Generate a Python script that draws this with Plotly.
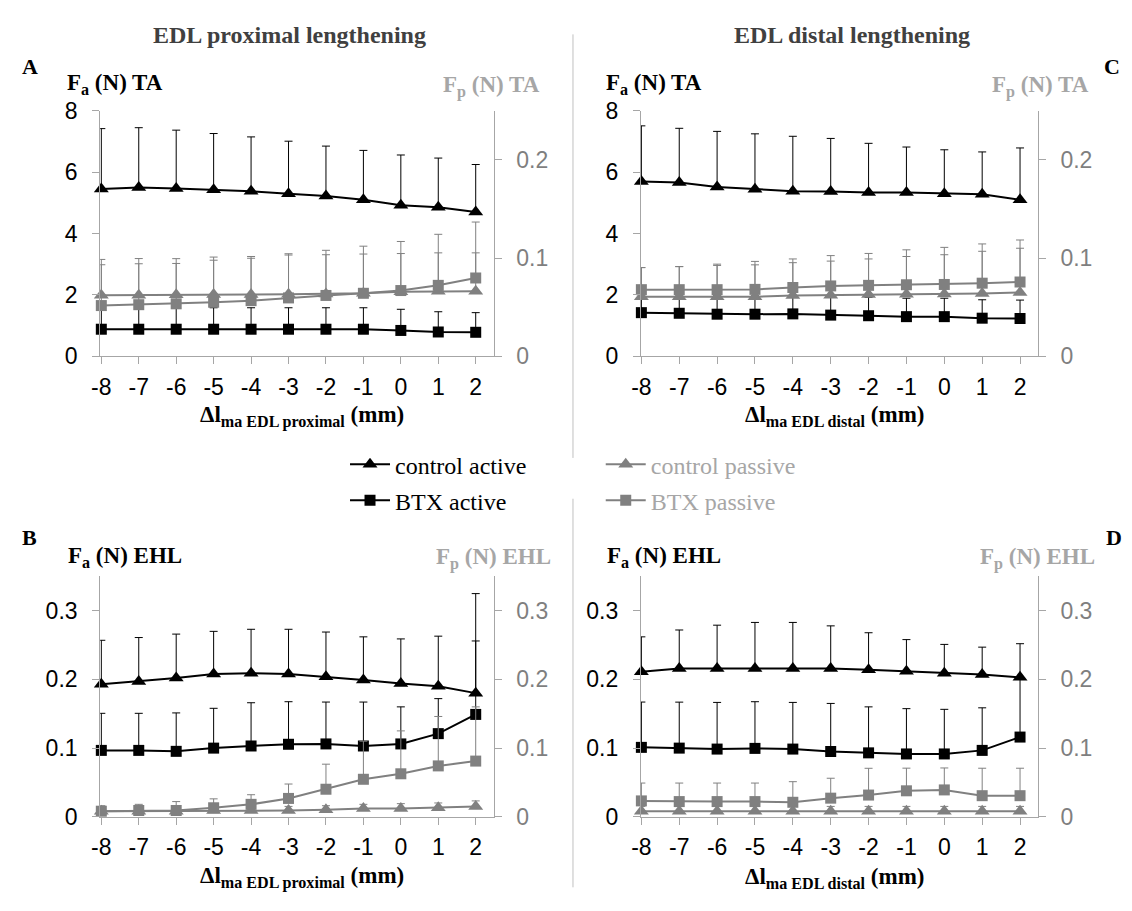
import plotly.graph_objects as go

W, H = 1132, 911

# ---------------- data ----------------
x_mm = [-8, -7, -6, -5, -4, -3, -2, -1, 0, 1, 2]
x_tick_labels = ["-8", "-7", "-6", "-5", "-4", "-3", "-2", "-1", "0", "1", "2"]

# Panel A: EDL proximal lengthening, TA
A_ctrl_act = [5.45, 5.50, 5.47, 5.43, 5.38, 5.30, 5.22, 5.10, 4.92, 4.86, 4.70]
A_ctrl_act_sd = [1.97, 1.95, 1.90, 1.83, 1.77, 1.71, 1.63, 1.61, 1.64, 1.60, 1.55]
A_btx_act = [0.88, 0.88, 0.88, 0.88, 0.88, 0.88, 0.88, 0.88, 0.84, 0.79, 0.78]
A_btx_act_sd = [0.70, 0.70, 0.70, 0.70, 0.70, 0.70, 0.70, 0.70, 0.69, 0.66, 0.64]
A_ctrl_pas = [0.0622, 0.0622, 0.0625, 0.0628, 0.0628, 0.0631, 0.0634, 0.0641, 0.0656, 0.0663, 0.0663]
A_ctrl_pas_sd = [0.031, 0.032, 0.032, 0.035, 0.037, 0.040, 0.040, 0.040, 0.039, 0.039, 0.039]
A_btx_pas = [0.0516, 0.0525, 0.0534, 0.0550, 0.0566, 0.0594, 0.0619, 0.0641, 0.0669, 0.0722, 0.0797]
A_btx_pas_sd = [0.047, 0.047, 0.046, 0.046, 0.045, 0.045, 0.046, 0.048, 0.050, 0.052, 0.057]

# Panel C: EDL distal lengthening, TA
C_ctrl_act = [5.70, 5.66, 5.52, 5.44, 5.38, 5.37, 5.34, 5.34, 5.30, 5.28, 5.10]
C_ctrl_act_sd = [1.81, 1.77, 1.81, 1.81, 1.79, 1.73, 1.60, 1.48, 1.43, 1.38, 1.69]
C_btx_act = [1.42, 1.40, 1.37, 1.37, 1.38, 1.34, 1.32, 1.29, 1.29, 1.24, 1.23]
C_btx_act_sd = [0.60, 0.60, 0.60, 0.60, 0.60, 0.60, 0.60, 0.60, 0.60, 0.60, 0.60]
C_ctrl_pas = [0.0606, 0.0606, 0.0606, 0.0606, 0.0619, 0.0622, 0.0628, 0.0631, 0.0634, 0.0638, 0.0650]
C_ctrl_pas_sd = [0.0297, 0.0307, 0.0319, 0.0325, 0.0334, 0.0347, 0.0363, 0.0385, 0.0400, 0.0431, 0.0450]
C_btx_pas = [0.0678, 0.0678, 0.0678, 0.0681, 0.0700, 0.0716, 0.0722, 0.0728, 0.0731, 0.0744, 0.0756]
C_btx_pas_sd = [0.0225, 0.0235, 0.0260, 0.0285, 0.0291, 0.0309, 0.0325, 0.0356, 0.0378, 0.0400, 0.0428]

# Panel B: EDL proximal lengthening, EHL
B_ctrl_act = [0.193, 0.197, 0.202, 0.208, 0.209, 0.208, 0.204, 0.199, 0.194, 0.190, 0.180]
B_ctrl_act_sd = [0.064, 0.064, 0.064, 0.062, 0.064, 0.065, 0.065, 0.063, 0.065, 0.073, 0.145]
B_btx_act = [0.0966, 0.0966, 0.0952, 0.0999, 0.103, 0.1055, 0.106, 0.103, 0.106, 0.121, 0.149]
B_btx_act_sd = [0.054, 0.054, 0.056, 0.058, 0.063, 0.062, 0.061, 0.064, 0.054, 0.051, 0.107]
B_ctrl_pas = [0.008, 0.008, 0.008, 0.009, 0.009, 0.009, 0.010, 0.012, 0.012, 0.013, 0.015]
B_ctrl_pas_sd = [0.005, 0.005, 0.006, 0.006, 0.006, 0.006, 0.006, 0.006, 0.007, 0.007, 0.008]
B_btx_pas = [0.008, 0.009, 0.009, 0.013, 0.018, 0.0266, 0.040, 0.0545, 0.0625, 0.074, 0.081]
B_btx_pas_sd = [0.008, 0.009, 0.013, 0.013, 0.014, 0.021, 0.0365, 0.0555, 0.0625, 0.072, 0.079]

# Panel D: EDL distal lengthening, EHL
D_ctrl_act = [0.211, 0.216, 0.216, 0.216, 0.216, 0.216, 0.214, 0.212, 0.209, 0.207, 0.203]
D_ctrl_act_sd = [0.051, 0.056, 0.063, 0.067, 0.067, 0.062, 0.054, 0.046, 0.042, 0.040, 0.049]
D_btx_act = [0.101, 0.0999, 0.0985, 0.0995, 0.0985, 0.095, 0.093, 0.0914, 0.0914, 0.0966, 0.116]
D_btx_act_sd = [0.066, 0.067, 0.068, 0.068, 0.068, 0.070, 0.067, 0.066, 0.065, 0.062, 0.084]
D_ctrl_pas = [0.008, 0.008, 0.008, 0.008, 0.008, 0.008, 0.008, 0.008, 0.008, 0.008, 0.008]
D_ctrl_pas_sd = [0.007, 0.007, 0.007, 0.007, 0.007, 0.007, 0.007, 0.007, 0.007, 0.007, 0.007]
D_btx_pas = [0.023, 0.022, 0.022, 0.022, 0.021, 0.027, 0.0315, 0.0377, 0.039, 0.0306, 0.0306]
D_btx_pas_sd = [0.026, 0.027, 0.027, 0.027, 0.030, 0.029, 0.039, 0.033, 0.032, 0.040, 0.040]

series_names = ["control active", "BTX active", "control passive", "BTX passive"]

# ---------------- styling ----------------
BLACK = "#000000"
GRAY = "#808080"
AXIS_GRAY = "#a6a6a6"
LIGHT_TXT = "#a6a6a6"
SERIF = "Liberation Serif"
SANS = "Liberation Sans"


def px(v):
    return v / W


def py(v):
    return 1 - v / H


fig = go.Figure()

panels = [
    ("A", "x", "y", "y2", (A_ctrl_act, A_ctrl_act_sd, A_btx_act, A_btx_act_sd,
                           A_ctrl_pas, A_ctrl_pas_sd, A_btx_pas, A_btx_pas_sd)),
    ("C", "x2", "y3", "y4", (C_ctrl_act, C_ctrl_act_sd, C_btx_act, C_btx_act_sd,
                             C_ctrl_pas, C_ctrl_pas_sd, C_btx_pas, C_btx_pas_sd)),
    ("B", "x3", "y5", "y6", (B_ctrl_act, B_ctrl_act_sd, B_btx_act, B_btx_act_sd,
                             B_ctrl_pas, B_ctrl_pas_sd, B_btx_pas, B_btx_pas_sd)),
    ("D", "x4", "y7", "y8", (D_ctrl_act, D_ctrl_act_sd, D_btx_act, D_btx_act_sd,
                             D_ctrl_pas, D_ctrl_pas_sd, D_btx_pas, D_btx_pas_sd)),
]

legend_ids = ["legend", "legend2", "legend3", "legend4"]

for key, xa, yl, yr, d in panels:
    ca, ca_sd, ba, ba_sd, cp, cp_sd, bp, bp_sd = d
    specs = [
        (ca, ca_sd, yl, BLACK, "triangle-up", 13, 0),
        (ba, ba_sd, yl, BLACK, "square", 11, 1),
        (cp, cp_sd, yr, GRAY, "triangle-up", 13, 2),
        (bp, bp_sd, yr, GRAY, "square", 11, 3),
    ]
    for vals, sd, ya, col, sym, size, idx in specs:
        fig.add_trace(go.Scatter(
            x=x_mm, y=vals, xaxis=xa, yaxis=ya,
            mode="lines+markers",
            name=series_names[idx],
            line=dict(color=col, width=2),
            marker=dict(symbol=sym, size=size, color=col),
            error_y=dict(type="data", symmetric=False, array=sd,
                         arrayminus=[0] * len(sd), color=col,
                         thickness=1, width=4),
            showlegend=(key == "A"),
            legend=legend_ids[idx],
            cliponaxis=False,
        ))

# ---------------- axes ----------------
top_dom = [py(353.3), py(100.7)]
bot_dom = [py(827.3), py(580)]
left_dom = [px(91), px(488)]
right_dom = [px(636.5), px(1037)]
left_range = [-8.03, 2.48]
right_range = [-8.013, 2.47]

common_x = dict(tickmode="array", tickvals=x_mm, ticktext=x_tick_labels,
                ticks="outside", ticklen=7, tickcolor=AXIS_GRAY,
                showline=True, linecolor=AXIS_GRAY, linewidth=1,
                showgrid=False, zeroline=False,
                tickfont=dict(family=SANS, size=23, color=BLACK),
                ticklabelstandoff=3)
common_yl = dict(ticks="outside", ticklen=7, tickcolor=AXIS_GRAY,
                 showline=True, linecolor=AXIS_GRAY, linewidth=1,
                 showgrid=False, zeroline=False,
                 tickfont=dict(family=SANS, size=23, color=BLACK),
                 ticklabelstandoff=10)
common_yr = dict(ticks="outside", ticklen=7, tickcolor=AXIS_GRAY,
                 showline=True, linecolor=AXIS_GRAY, linewidth=1,
                 showgrid=False, zeroline=False, side="right",
                 tickfont=dict(family=SANS, size=23, color="#7f7f7f"),
                 ticklabelstandoff=10)

fig.update_layout(
    xaxis=dict(domain=left_dom, range=left_range, anchor="y", **common_x),
    yaxis=dict(domain=top_dom, range=[0, 8], anchor="x", tickvals=[0, 2, 4, 6, 8], **common_yl),
    yaxis2=dict(range=[0, 0.25], anchor="x", overlaying="y", tickvals=[0, 0.1, 0.2], **common_yr),
    xaxis2=dict(domain=right_dom, range=right_range, anchor="y3", **common_x),
    yaxis3=dict(domain=top_dom, range=[0, 8], anchor="x2", tickvals=[0, 2, 4, 6, 8], **common_yl),
    yaxis4=dict(range=[0, 0.25], anchor="x2", overlaying="y3", tickvals=[0, 0.1, 0.2], **common_yr),
    xaxis3=dict(domain=left_dom, range=left_range, anchor="y5", **common_x),
    yaxis5=dict(domain=bot_dom, range=[0, 0.35], anchor="x3", tickvals=[0, 0.1, 0.2, 0.3], **common_yl),
    yaxis6=dict(range=[0, 0.35], anchor="x3", overlaying="y5", tickvals=[0, 0.1, 0.2, 0.3], **common_yr),
    xaxis4=dict(domain=right_dom, range=right_range, anchor="y7", **common_x),
    yaxis7=dict(domain=bot_dom, range=[0, 0.35], anchor="x4", tickvals=[0, 0.1, 0.2, 0.3], **common_yl),
    yaxis8=dict(range=[0, 0.35], anchor="x4", overlaying="y7", tickvals=[0, 0.1, 0.2, 0.3], **common_yr),
)

# ---------------- legends ----------------
leg_common = dict(xanchor="left", yanchor="middle", bgcolor="rgba(0,0,0,0)",
                  borderwidth=0, itemclick=False, itemdoubleclick=False,
                  itemwidth=40)
fig.update_layout(
    legend=dict(x=px(338), y=py(465), font=dict(family=SERIF, size=24, color=BLACK), **leg_common),
    legend2=dict(x=px(338), y=py(502), font=dict(family=SERIF, size=24, color=BLACK), **leg_common),
    legend3=dict(x=px(596), y=py(465), font=dict(family=SERIF, size=24, color=LIGHT_TXT), **leg_common),
    legend4=dict(x=px(596), y=py(502), font=dict(family=SERIF, size=24, color=LIGHT_TXT), **leg_common),
)

# ---------------- text ----------------
ann = []


def add_text(text, xp, yp, size, color, xanchor="center", family=SERIF):
    ann.append(dict(text=text, x=px(xp), y=py(yp), xref="paper", yref="paper",
                    xanchor=xanchor, yanchor="middle", showarrow=False,
                    font=dict(family=family, size=size, color=color)))


add_text("<b>EDL proximal lengthening</b>", 282, 23, 24, "#404040")
add_text("<b>EDL distal lengthening</b>", 850, 23, 24, "#404040")
add_text("<b>A</b>", 20, 55, 22, BLACK)
add_text("<b>C</b>", 1112, 55, 22, BLACK)
add_text("<b>B</b>", 20, 540, 22, BLACK)
add_text("<b>D</b>", 1114, 540, 22, BLACK)

add_text("<b>F<sub>a</sub> (N) TA</b>", 106, 73, 23, BLACK)
add_text("<b>F<sub>p</sub> (N) TA</b>", 486, 76, 23, LIGHT_TXT)
add_text("<b>F<sub>a</sub> (N) TA</b>", 650, 73, 23, BLACK)
add_text("<b>F<sub>p</sub> (N) TA</b>", 1040, 76, 23, LIGHT_TXT)
add_text("<b>F<sub>a</sub> (N) EHL</b>", 116, 560, 23, BLACK)
add_text("<b>F<sub>p</sub> (N) EHL</b>", 488, 562, 23, LIGHT_TXT)
add_text("<b>F<sub>a</sub> (N) EHL</b>", 660, 560, 23, BLACK)
add_text("<b>F<sub>p</sub> (N) EHL</b>", 1037, 562, 23, LIGHT_TXT)

add_text("<b>Δl<sub>ma EDL proximal</sub> (mm)</b>", 295, 415, 23, BLACK)
add_text("<b>Δl<sub>ma EDL distal</sub> (mm)</b>", 832, 415, 23, BLACK)
add_text("<b>Δl<sub>ma EDL proximal</sub> (mm)</b>", 295, 890, 23, BLACK)
add_text("<b>Δl<sub>ma EDL distal</sub> (mm)</b>", 832, 890, 23, BLACK)

fig.update_layout(annotations=ann)

# divider lines between the two columns
fig.update_layout(shapes=[
    dict(type="line", xref="paper", yref="paper", x0=px(568), x1=px(568),
         y0=py(22), y1=py(458), line=dict(color="#c0c0c0", width=1)),
    dict(type="line", xref="paper", yref="paper", x0=px(568), x1=px(568),
         y0=py(500), y1=py(900), line=dict(color="#c0c0c0", width=1)),
])

fig.update_layout(width=W, height=H, margin=dict(l=0, r=0, t=0, b=0),
                  paper_bgcolor="white", plot_bgcolor="white")

fig.write_html("out.html")
